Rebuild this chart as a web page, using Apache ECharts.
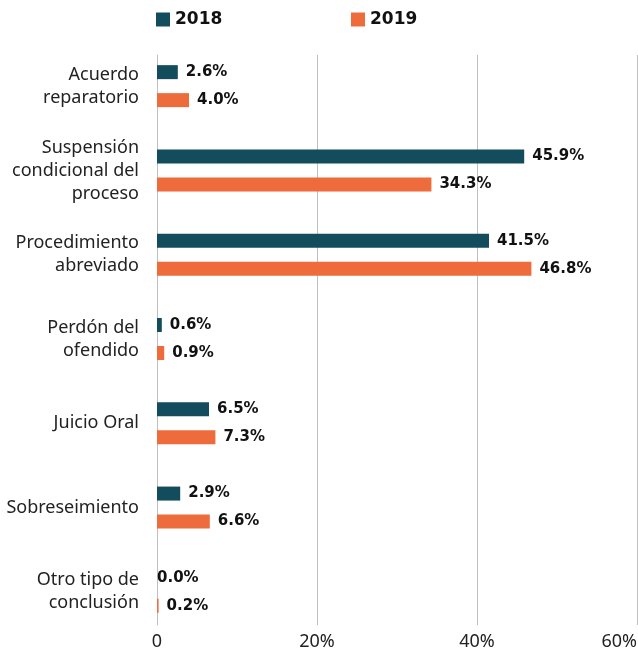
<!DOCTYPE html>
<html><head><meta charset="utf-8">
<script src="https://cdn.jsdelivr.net/npm/echarts@6/dist/echarts.min.js"></script>
<style>html,body{margin:0;padding:0;background:#fff}#c{width:638px;height:652px}</style>
</head><body><div id="c"></div>
<script>
const categories = ["Acuerdo\nreparatorio","Suspensión\ncondicional del\nproceso","Procedimiento\nabreviado","Perdón del\nofendido","Juicio Oral","Sobreseimiento","Otro tipo de\nconclusión"];
const values2018 = [2.6, 45.9, 41.5, 0.6, 6.5, 2.9, 0.0];
const values2019 = [4.0, 34.3, 46.8, 0.9, 7.3, 6.6, 0.2];
const seriesNames = ["2018","2019"];
const xTicks = [0, 20, 40, 60];

const FONT = "Noto Sans";
const BFONT = "DejaVu Sans";
const chart = echarts.init(document.getElementById('c'), null, {renderer:'canvas'});
function mk(vals){ return vals.map(v => v === 0 ? {value:v, label:{distance:0}} : v); }
const lbl = {show:true, position:'right', distance:8, color:'#111', fontFamily:BFONT, fontWeight:'bold', fontSize:15, formatter:p=>p.value.toFixed(1)+'%'};
const legText = {fontFamily:BFONT, fontWeight:'bold', fontSize:17, color:'#111'};
chart.setOption({
  animation:false,
  legend:[
    {data:[seriesNames[0]], left:156, top:11, itemWidth:14, itemHeight:14, icon:'rect', textStyle:legText, itemGap:0, padding:0},
    {data:[seriesNames[1]], left:351, top:11, itemWidth:14, itemHeight:14, icon:'rect', textStyle:legText, itemGap:0, padding:0}
  ],
  grid:[
    {left:157, right:1, top:44, bottom:18, outerBoundsMode:'none', containLabel:false},
    {left:157, right:1, top:55, bottom:27, outerBoundsMode:'none', containLabel:false}
  ],
  xAxis:[
    {gridIndex:0, type:'value', min:xTicks[0], max:xTicks[xTicks.length-1], interval:20, show:false},
    {gridIndex:1, type:'value', min:xTicks[0], max:xTicks[xTicks.length-1], interval:20,
     axisLine:{show:false}, axisTick:{show:false},
     splitLine:{show:true, lineStyle:{color:'#bfbfbf', width:1}},
     axisLabel:{margin:8, color:'#222', fontFamily:FONT, fontSize:18, formatter:v=> v===0 ? '0' : v+'%', showMaxLabel:true, alignMaxLabel:'right'}}
  ],
  yAxis:[
    {gridIndex:0, type:'category', data:categories, inverse:true,
     axisLine:{show:false}, axisTick:{show:false},
     axisLabel:{margin:18, color:'#222', fontFamily:FONT, fontSize:18, lineHeight:23, align:'right'}},
    {gridIndex:1, type:'value', show:true, min:0, max:1, axisLine:{show:true, lineStyle:{color:'#bfbfbf'}}, axisTick:{show:false}, axisLabel:{show:false}, splitLine:{show:false}}
  ],
  series:[
    {name:seriesNames[0], type:'bar', xAxisIndex:0, yAxisIndex:0, data:mk(values2018), barWidth:14, barGap:'100%', itemStyle:{color:'#134c5c'}, label:lbl},
    {name:seriesNames[1], type:'bar', xAxisIndex:0, yAxisIndex:0, data:mk(values2019), barWidth:14, barGap:'100%', itemStyle:{color:'#ee6b3b'}, label:lbl}
  ]
});
</script></body></html>
